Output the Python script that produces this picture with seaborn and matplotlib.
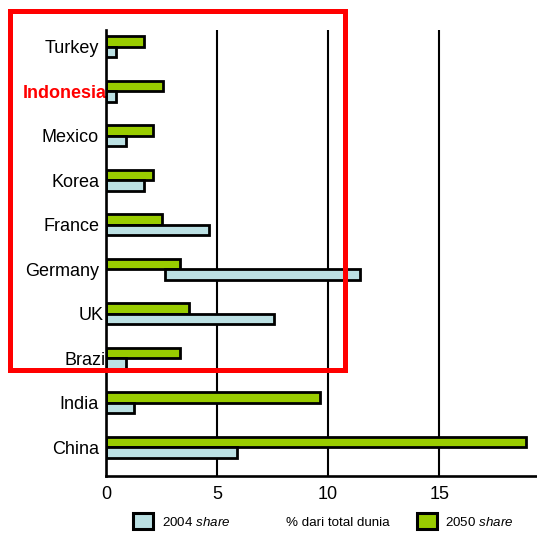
import numpy as np
import pandas as pd
import matplotlib
matplotlib.use("Agg")
import matplotlib.pyplot as plt
import matplotlib.transforms as mtransforms
from matplotlib.patches import Patch, Rectangle
import seaborn as sns

# -------------------------
# Data (% of world total)
# -------------------------
countries = ["Turkey", "Indonesia", "Mexico", "Korea", "France",
             "Germany", "UK", "Brazil", "India", "China"]
share_2050 = [1.7, 2.55, 2.1, 2.1, 2.5, 3.35, 3.75, 3.35, 9.65, 18.9]
share_2004 = [0.45, 0.45, 0.9, 1.7, 4.65, 8.8, 7.55, 0.9, 1.25, 5.9]
start_2004 = [0, 0, 0, 0, 0, 2.65, 0, 0, 0, 0]
x_ticks = [0, 5, 10, 15]

series = ["2050", "2004"]
df = pd.DataFrame({
    "country": countries * 2,
    "share": share_2050 + share_2004,
    "year": ["2050"] * len(countries) + ["2004"] * len(countries),
})

green = "#99CC00"
blue = "#BBE0E3"

sns.set_style("white")
plt.rcParams["font.family"] = ["Liberation Sans", "DejaVu Sans"]
plt.rcParams["text.color"] = "black"
plt.rcParams["xtick.color"] = "black"
plt.rcParams["ytick.color"] = "black"
plt.rcParams["axes.labelcolor"] = "black"
plt.rcParams["mathtext.fontset"] = "custom"
plt.rcParams["mathtext.rm"] = "Liberation Sans"
plt.rcParams["mathtext.it"] = "Liberation Sans:italic"

fig = plt.figure(figsize=(5.37, 5.34), dpi=100)
ax = fig.add_axes([106 / 537, 1 - 476 / 534, 1 - 106 / 537, (476 - 30) / 534])

sns.barplot(data=df, y="country", x="share", hue="year", hue_order=series,
            order=countries, orient="h", palette=[green, blue], saturation=1,
            width=0.47, edgecolor="black", linewidth=2.0, legend=False, ax=ax)

# 2004 bars: shift start where the bar doesn't begin at zero
blue_bars = ax.containers[1]
for patch, s in zip(blue_bars, start_2004):
    patch.set_x(s)

ax.set_xlim(0, 19.4)
ax.set_ylim(9.65, -0.38)
ax.set_xticks(x_ticks)
ax.set_xticklabels([str(t) for t in x_ticks])
ax.tick_params(axis="both", length=0, labelsize=13, labelcolor="black")
ax.tick_params(axis="x", pad=7)
ax.tick_params(axis="y", pad=5)
ax.set_ylabel("")

ax.xaxis.grid(True, color="black", linewidth=1.5)
ax.yaxis.grid(False)
for side in ["top", "right"]:
    ax.spines[side].set_visible(False)
for side in ["left", "bottom"]:
    ax.spines[side].set_color("black")
    ax.spines[side].set_linewidth(1.9)
    ax.spines[side].set_zorder(5)

# label tweaks
shift = {"Indonesia": 8, "UK": 5, "Brazil": 11}
for lbl in ax.get_yticklabels():
    name = lbl.get_text()
    if name == "Indonesia":
        lbl.set_color("red")
        lbl.set_fontweight("bold")
    if name in shift:
        lbl.set_transform(lbl.get_transform() +
                          mtransforms.ScaledTranslation(shift[name] / 100, 0, fig.dpi_scale_trans))

ax.set_xlabel("% dari total dunia", fontsize=9.6)
ax.xaxis.set_label_coords((338 - 106) / 431, -(517 - 476) / 446)

handles = [Patch(facecolor=blue, edgecolor="black", linewidth=2.2),
           Patch(facecolor=green, edgecolor="black", linewidth=2.2)]
fig.legend(handles=handles, labels=[r"2004 $\mathit{share}$", r"2050 $\mathit{share}$"],
           loc="upper left", bbox_to_anchor=(133 / 537, 1 - 513 / 534), ncol=2,
           frameon=False, fontsize=9.6, handlelength=1.5, handleheight=1.5,
           handletextpad=0.65, columnspacing=14.0, borderpad=0, borderaxespad=0)

# red highlight box
fig.patches.append(Rectangle((9.5 / 537, 1 - 370 / 534), (344.5 - 9.5) / 537, (370 - 10.5) / 534,
                             transform=fig.transFigure, fill=False, edgecolor="#FF0000",
                             linewidth=3.6, zorder=10))

plt.savefig("out.png", dpi=100)
plt.close()
